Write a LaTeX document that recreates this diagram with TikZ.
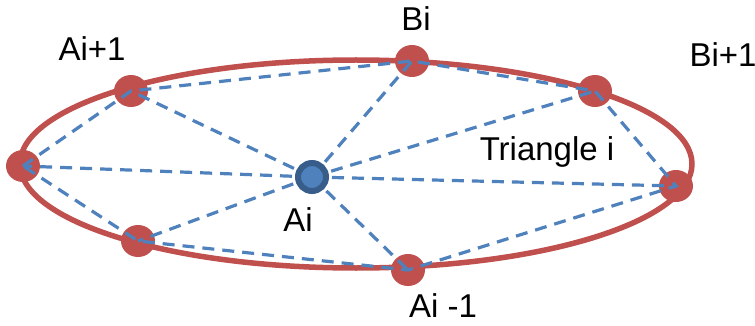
\documentclass[tikz,border=0pt]{standalone}
\usepackage{fontspec}
\setmainfont{Liberation Sans}
\usetikzlibrary{shapes.geometric}
\definecolor{dotred}{HTML}{C0504D}
\definecolor{lineblue}{HTML}{4F81BD}
\definecolor{darkblue}{HTML}{385D8A}
\begin{document}
\begin{tikzpicture}[x=1pt,y=-1pt,
  reddot/.style={ellipse,fill=dotred,minimum width=34pt,minimum height=32pt,inner sep=0pt},
  centerdot/.style={circle,fill=lineblue,draw=darkblue,line width=6pt,minimum size=28pt,inner sep=0pt},
  spoke/.style={draw=lineblue,line width=3.2pt,dash pattern=on 12pt off 8pt},
  lbl/.style={font=\fontsize{33}{38}\selectfont,inner sep=0pt}]
\useasboundingbox (0,0) rectangle (755,326);
\draw[dotred,line width=5.5pt] (356,164) ellipse [x radius=336, y radius=104];
\node[reddot] (L) at (23,166) {};
\node[reddot] (A1) at (131,91) {};
\node[reddot] (B) at (412,61) {};
\node[reddot] (B1) at (595,91) {};
\node[reddot] (R) at (676,186) {};
\node[reddot] (Am) at (408,270) {};
\node[reddot] (BL) at (138,241) {};
\coordinate (Ac) at (312,177);
\foreach \n in {L,A1,B,B1,R,Am,BL} \draw[spoke] (Ac) -- (\n.center);
\draw[spoke] (L.center) -- (A1.center) -- (B.center) -- (B1.center) -- (R.center) -- (Am.center) -- (BL.center) -- (L.center);
\node[centerdot] (A) at (Ac) {};
\node[lbl] (tA1) at (92,49) {Ai+1};
\node[lbl] (tB) at (416,19) {Bi};
\node[lbl] (tB1) at (723,55) {Bi+1};
\node[lbl] (tT) at (547,152) {Triangle i};
\node[lbl] (tA) at (298,220) {Ai};
\node[lbl] (tAm) at (443,306) {Ai -1};
\end{tikzpicture}
\end{document}
